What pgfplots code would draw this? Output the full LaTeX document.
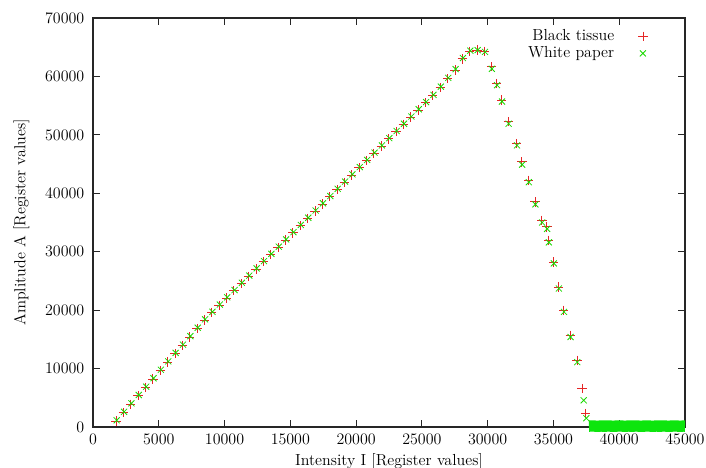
\documentclass[border=0pt]{standalone}
\usepackage{pgfplots}
\usepackage{pgfplotstable}
\pgfplotsset{compat=1.18}
\definecolor{gpred}{rgb}{0.9,0.15,0.15}
\definecolor{gpgreen}{rgb}{0.1,0.85,0.0}
\definecolor{bandgreen}{rgb}{0.05,0.9,0.05}
\pgfplotstableread{
x y
37700 150
38000 180
38300 120
38600 160
38900 140
39200 170
39500 130
39800 150
40100 180
40400 120
40700 160
41000 140
41300 170
41600 130
41900 150
42200 180
42500 120
42800 160
43100 140
43400 170
43700 130
44000 150
44300 180
44600 120
44900 160
45000 150
}\bandtable
\begin{document}
\begin{tikzpicture}
\begin{axis}[
  scale only axis,
  width=444pt, height=306.75pt,
  xmin=0, xmax=45000, ymin=0, ymax=70000,
  xtick={0,5000,...,45000}, ytick={0,10000,...,70000},
  scaled ticks=false,
  /pgf/number format/1000 sep={},
  tick label style={font=\large},
  label style={font=\large},
  yticklabel style={xshift=-3pt},
  xticklabel style={yshift=-2pt},
  ylabel style={yshift=5pt},
  tick align=inside, tick pos=both,
  major tick length=5pt,
  axis line style={line width=0.8pt, black!85},
  every tick/.style={black!85, line width=0.7pt},
  xlabel={Intensity I [Register values]},
  ylabel={Amplitude A [Register values]},
  legend style={draw=none, fill=none, at={(0.944,0.985)}, anchor=north east, row sep=-1pt, column sep=16pt, font=\large},
  legend cell align=right,
  legend plot pos=right,
  clip=false,
]
\addplot[only marks, mark=+, mark size=3.5pt, color=gpred, mark options={gpred, line width=0.6pt}] coordinates {
(1750,1020) (2310,2460) (2870,3900) (3430,5340) (3990,6780) (4550,8220) (5110,9660) (5670,11100)
(6230,12535) (6790,13980) (7350,15415) (7910,16860) (8470,18300) (9030,19610) (9590,20850)
(10150,22090) (10710,23325) (11270,24565) (11830,25800) (12390,27040) (12950,28280) (13510,29515)
(14070,30750) (14630,31990) (15190,33225) (15750,34465) (16310,35700) (16870,36940) (17430,38180)
(17990,39415) (18550,40655) (19110,41890) (19670,43130) (20230,44365) (20790,45605) (21350,46840)
(21910,48080) (22470,49315) (23030,50555) (23590,51790) (24150,53030) (24710,54265) (25270,55505)
(25830,56740) (26390,58100) (26950,59600) (27510,61100) (28070,63000) (28630,64300) (29190,64500)
(29750,64300) (30300,61650) (30690,58800) (31070,55940) (31570,52230) (32210,48530) (32600,45380)
(33110,42240) (33610,38530) (34120,35390) (34500,34250) (34630,31970) (35010,28250) (35390,23970)
(35780,19980) (36280,15700) (36790,11420) (37180,6580) (37440,2300)
};
\addlegendentry{Black tissue}
\addplot[only marks, mark=x, mark size=3.2pt, color=gpgreen, mark options={gpgreen, line width=0.6pt}] coordinates {
(1800,1150) (2360,2600) (2920,4050) (3480,5480) (4040,6900) (4600,8350) (5160,9800) (5720,11230)
(6280,12680) (6840,14100) (7400,15550) (7960,16990) (8520,18430) (9080,19720) (9640,20960)
(10200,22200) (10760,23440) (11320,24680) (11880,25910) (12440,27150) (13000,28390) (13560,29630)
(14120,30860) (14680,32100) (15240,33340) (15800,34580) (16360,35810) (16920,37050) (17480,38290)
(18040,39530) (18600,40760) (19160,42000) (19720,43240) (20280,44480) (20840,45710) (21400,46950)
(21960,48190) (22520,49430) (23080,50660) (23640,51900) (24200,53140) (24760,54380) (25320,55610)
(25880,56850) (26440,58250) (27000,59750) (27560,61250) (28120,63150) (28680,64400) (29240,64500)
(29800,64200) (30320,61300) (30710,58500) (31090,55700) (31590,51900) (32230,48200) (32620,44900)
(33130,41900) (33630,38100) (34140,35000) (34520,33900) (34650,31600) (35030,28000) (35410,23700)
(35800,19700) (36300,15400) (36810,11100) (37300,4570) (37500,1500)
};
\addlegendentry{White paper}
\addplot[bandgreen, line width=8.5pt, line cap=butt, forget plot] table[x=x, y=y] {\bandtable};
\coordinate (sw) at (rel axis cs:0,0);
\coordinate (ne) at (rel axis cs:1,1);
\end{axis}
\pgfresetboundingbox
\path ([xshift=-69.75pt,yshift=-30.75pt]sw) rectangle ([xshift=15.75pt,yshift=13.5pt]ne);
\end{tikzpicture}
\end{document}
